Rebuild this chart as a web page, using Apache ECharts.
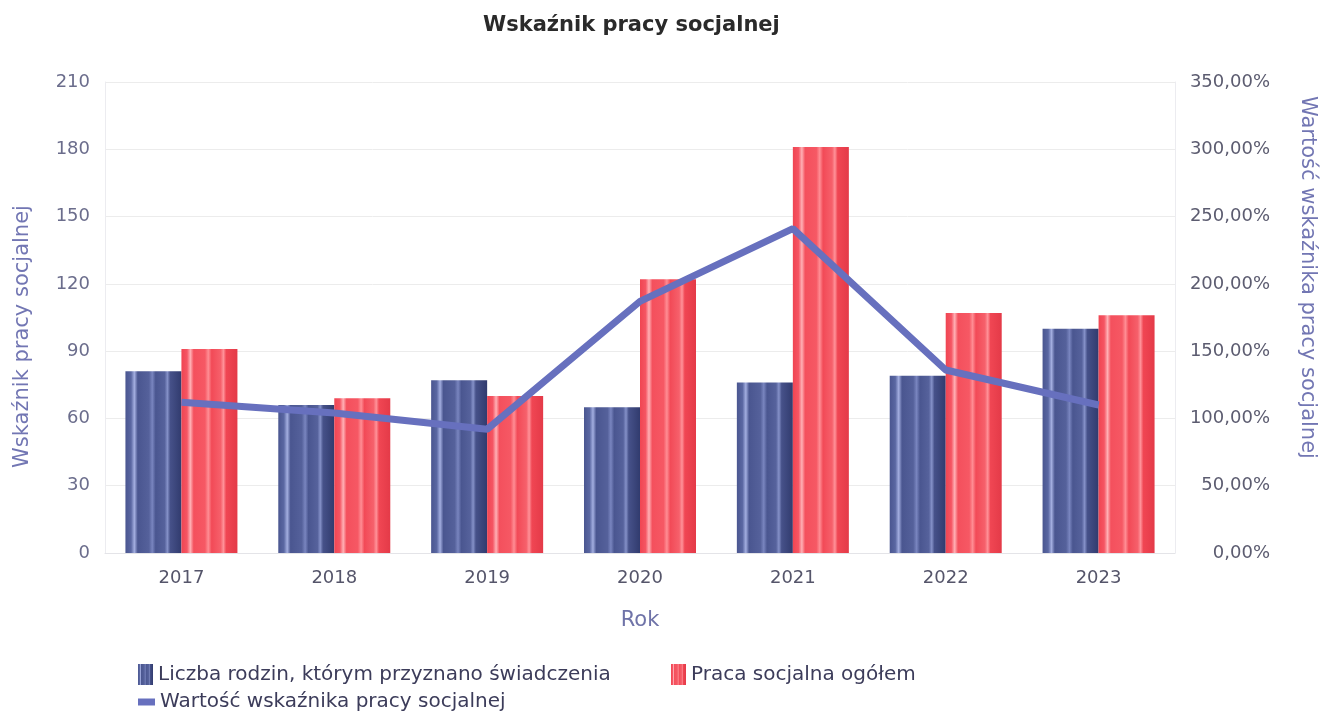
<!DOCTYPE html>
<html lang="pl">
<head>
    <meta charset="UTF-8">
    <title>Wskaźnik pracy socjalnej</title>
    <style>
        html, body { margin: 0; padding: 0; background: #fff; }
        #chart { width: 1337px; height: 711px; }
    </style>
</head>
<body>
<div id="chart"></div>
<script src="https://cdn.jsdelivr.net/npm/echarts@6/dist/echarts.min.js"></script>
<script>
    // dane
    var lata = ['2017', '2018', '2019', '2020', '2021', '2022', '2023'];
    var rodziny = [81, 66, 77, 65, 76, 79, 100];
    var pracaSocjalna = [91, 69, 70, 122, 181, 107, 106];
    var wskaznik = [112, 104, 92, 187, 241, 136, 110];
    var lewaOs = { min: 0, max: 210, interval: 30 };
    var prawaOs = { min: 0, max: 350, interval: 50 };

    var nazwaRodziny = 'Liczba rodzin, którym przyznano świadczenia';
    var nazwaPraca = 'Praca socjalna ogółem';
    var nazwaWskaznik = 'Wartość wskaźnika pracy socjalnej';

    var font = 'DejaVu Sans';

    // paski z efektem "walca"
    function paski(stops) {
        return new echarts.graphic.LinearGradient(0, 0, 1, 0, stops.map(function (s) {
            return { offset: s[0], color: s[1] };
        }));
    }
    var niebieski = paski([
        [0, '#4a5690'], [0.1, '#5a67a2'], [0.16, '#a3aee0'], [0.22, '#4a5690'],
        [0.42, '#55619b'], [0.48, '#7985bf'], [0.54, '#4a5690'],
        [0.7, '#56629c'], [0.75, '#8591c8'], [0.8, '#465189'], [1, '#313b6e']
    ]);
    var czerwony = paski([
        [0, '#f04552'], [0.1, '#f55563'], [0.16, '#ffb0b5'], [0.22, '#f4505d'],
        [0.42, '#f65864'], [0.48, '#ff8d94'], [0.54, '#f24a57'],
        [0.7, '#f6606b'], [0.75, '#ff9299'], [0.8, '#f04653'], [1, '#e43a48']
    ]);

    var chart = echarts.init(document.getElementById('chart'));

    var legendaTekst = { color: '#3c3c5a', fontSize: 20, fontFamily: font };

    var option = {
        animation: false,
        title: {
            text: 'Wskaźnik pracy socjalnej',
            left: 478,
            top: 10,
            textStyle: { color: '#2a2a2a', fontSize: 21, fontWeight: 'bold', fontFamily: font }
        },
        legend: [
            {
                left: 133, top: 659, itemWidth: 15, itemHeight: 21,
                icon: 'rect', textStyle: legendaTekst, data: [nazwaRodziny]
            },
            {
                left: 666, top: 659, itemWidth: 15, itemHeight: 21,
                icon: 'rect', textStyle: legendaTekst, data: [nazwaPraca]
            },
            {
                left: 133, top: 687, itemWidth: 17, itemHeight: 7,
                icon: 'rect', textStyle: legendaTekst, data: [nazwaWskaznik]
            }
        ],
        grid: { left: 105, right: 162, top: 82, bottom: 158 },
        xAxis: {
            type: 'category',
            data: lata,
            name: 'Rok',
            nameLocation: 'middle',
            nameGap: 57,
            nameTextStyle: { color: '#6f73a8', fontSize: 21, fontFamily: font },
            axisLine: { lineStyle: { color: '#e4e4e8' } },
            axisTick: { show: false },
            axisLabel: { color: '#55556a', fontSize: 18, fontFamily: font, margin: 16 }
        },
        yAxis: [
            {
                type: 'value',
                min: lewaOs.min, max: lewaOs.max, interval: lewaOs.interval,
                name: 'Wskaźnik pracy socjalnej',
                nameLocation: 'middle',
                nameGap: 72,
                nameRotate: 90,
                nameTextStyle: { color: '#7276b3', fontSize: 21, fontFamily: font, padding: [0, 38, 0, 0] },
                axisLine: { show: true, lineStyle: { color: '#ececf0' } },
                axisTick: { show: false },
                axisLabel: { color: '#6b6d8c', fontSize: 18, fontFamily: font, margin: 15 },
                splitLine: { lineStyle: { color: '#ececec' } }
            },
            {
                type: 'value',
                position: 'right',
                min: prawaOs.min, max: prawaOs.max, interval: prawaOs.interval,
                name: 'Wartość wskaźnika pracy socjalnej',
                nameLocation: 'middle',
                nameGap: 122,
                nameRotate: -90,
                nameTextStyle: { color: '#7276b3', fontSize: 21, fontFamily: font, padding: [0, 80, 0, 0] },
                axisLine: { show: true, lineStyle: { color: '#ececf0' } },
                axisTick: { show: false },
                axisLabel: {
                    color: '#5c5c70', fontSize: 18, fontFamily: font, margin: 95, align: 'right',
                    formatter: function (v) { return v + ',00%'; }
                },
                splitLine: { show: false }
            }
        ],
        series: [
            {
                name: nazwaRodziny,
                type: 'bar',
                barWidth: 56,
                barGap: '0%',
                itemStyle: { color: niebieski },
                data: rodziny
            },
            {
                name: nazwaPraca,
                type: 'bar',
                barWidth: 56,
                barGap: '0%',
                itemStyle: { color: czerwony },
                data: pracaSocjalna
            },
            {
                name: nazwaWskaznik,
                type: 'line',
                yAxisIndex: 1,
                symbol: 'none',
                z: 5,
                lineStyle: { color: '#6770be', width: 7 },
                itemStyle: { color: '#6770be' },
                data: wskaznik
            }
        ]
    };

    chart.setOption(option);
</script>
</body>
</html>
